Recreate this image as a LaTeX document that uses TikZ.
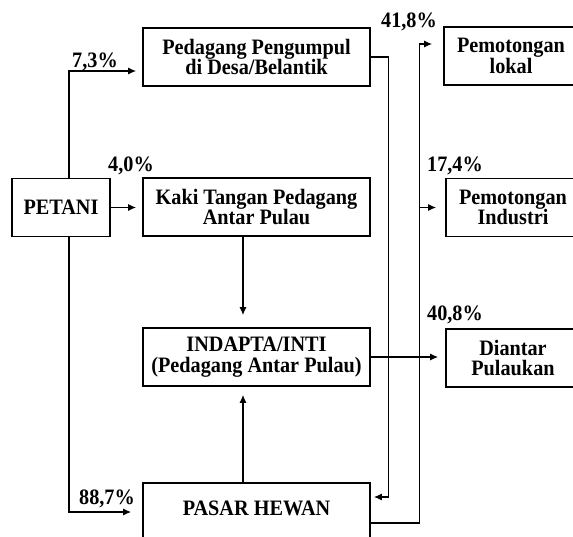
\documentclass[tikz,border=0pt]{standalone}
\usepackage{fontspec}
\setmainfont{Liberation Serif}[FakeStretch=0.92]
\usetikzlibrary{positioning, calc, arrows.meta}
\tikzset{>={Latex[length=8pt,width=7pt]}}
\newcommand\chartfont{\fontsize{22}{20.5}\selectfont\bfseries}
\tikzset{ % box and label styles
  my box/.style={draw,line width=1.6pt,inner sep=0,minimum height=58pt,align=center,font=\chartfont},
  wide box/.style={my box,minimum width=227pt},
  end box/.style={my box,minimum width=134pt},
  pct/.style={inner sep=0,font=\chartfont},
  link/.style={->,line width=1.3pt}
}

\begin{document}
\begin{tikzpicture}[x=1pt,y=-1pt]
\useasboundingbox (0,0) rectangle (573,536);
\clip (0,0) rectangle (573,536);

% boxes
\node[my box,minimum width=98pt] (petani)    at (61,207.5)  {PETANI};
\node[wide box]                  (pengumpul) at (256.5,57)  {Pedagang Pengumpul\\di Desa/Belantik};
\node[wide box]                  (kaki)      at (256.5,207) {Kaki Tangan Pedagang\\Antar Pulau};
\node[wide box]                  (indapta)   at (256.5,357) {INDAPTA/INTI\\(Pedagang Antar Pulau)};
\node[wide box,text depth=8pt]   (pasar)     at (256.5,512) {PASAR HEWAN};

\node[end box] (lokal)    at (511,56)    {Pemotongan\\lokal};
\node[end box] (industri) at (513,207.5) {Pemotongan\\Industri};
\node[end box] (diantar)  at (513,358)   {Diantar\\Pulaukan};

% shares
\node[pct] (p73) at (95,62)   {7,3\%};
\node[pct] (p40) at (131,166) {4,0\%};
\node[pct] (p88) at (107,499) {88,7\%};
\node[pct] (p41) at (409,22)  {41,8\%};
\node[pct] (p17) at (455,166) {17,4\%};
\node[pct] (p48) at (455,315) {40,8\%};

% connections
\draw[link,shorten >=6pt]  ([xshift=8pt]petani.north) |- ([yshift=-14pt]pengumpul.west);
\draw[link,shorten >=6pt]  (petani.east) -- (petani.east -| kaki.west);
\draw[link,shorten >=11pt] ([xshift=8pt]petani.south) |- (pasar.west);
\draw[link,shorten >=3pt]  (pengumpul.east) -- ++(18,0) |- ([yshift=15pt]pasar.east);
\draw[link,shorten >=12pt] ([xshift=-13.5pt]kaki.south) -- ([xshift=-13.5pt]indapta.north);
\draw[link,shorten >=8pt]  ([xshift=-13.5pt]pasar.north) -- ([xshift=-13.5pt]indapta.south);
\draw[link,shorten >=7pt]  (indapta.east) -- (indapta.east -| diantar.west);
\draw[link,shorten >=11pt] ([yshift=-11pt]pasar.east) -- ++(49,0) coordinate (up)
  |- ([yshift=12pt]lokal.west);
\draw[link,shorten >=9pt]  (up |- industri.west) -- (industri.west);
\end{tikzpicture}
\end{document}
